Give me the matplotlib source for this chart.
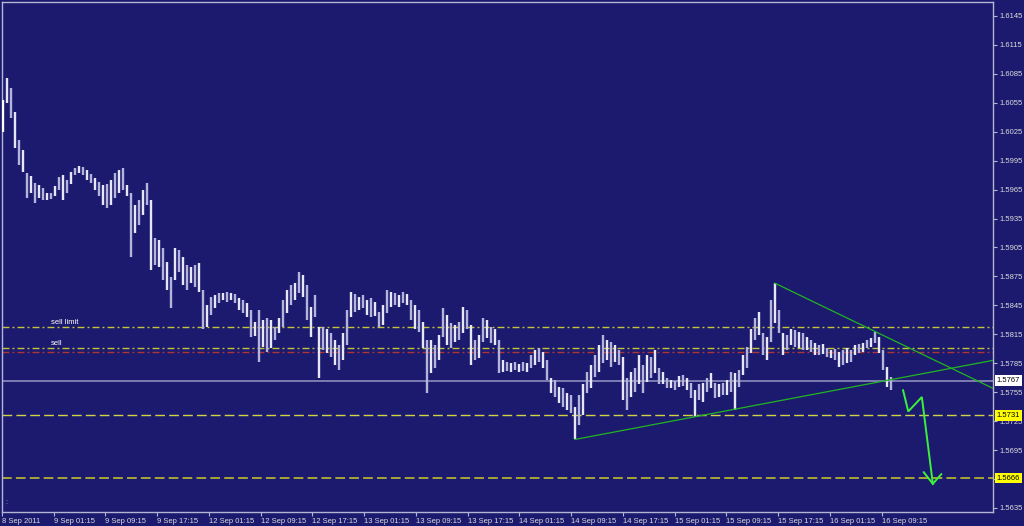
#!/usr/bin/env python3
"""
GBPUSD M15 bar chart, 8-16 Sep 2011, MetaTrader style,
with order levels, trend lines and a hand-drawn forecast arrow.
"""

import numpy as np
import matplotlib
matplotlib.use('Agg')
import matplotlib.pyplot as plt

plt.rcParams.update({
    'font.family': ['Liberation Sans', 'DejaVu Sans'],
    'font.size': 5.5,
    'lines.scale_dashes': False,
})

BG = '#1c1a6e'
FRAME = '#b4b4d4'
TEXT = '#dcdcdc'

# bar highs / lows (one bar about every 37 minutes)
highs = [
    1.6058, 1.6081, 1.6070, 1.6045, 1.6016, 1.6006, 1.5982, 1.5979, 1.5972, 1.5970,
    1.5967, 1.5961, 1.5962, 1.5969, 1.5978, 1.5980, 1.5975, 1.5983, 1.5987, 1.5989,
    1.5988, 1.5985, 1.5981, 1.5977, 1.5973, 1.5970, 1.5971, 1.5975, 1.5982, 1.5985,
    1.5987, 1.5970, 1.5961, 1.5949, 1.5954, 1.5965, 1.5972, 1.5954, 1.5915, 1.5913,
    1.5904, 1.5890, 1.5874, 1.5904, 1.5902, 1.5895, 1.5887, 1.5885, 1.5887, 1.5889,
    1.5861, 1.5845, 1.5854, 1.5856, 1.5858, 1.5858, 1.5859, 1.5858, 1.5857, 1.5853,
    1.5851, 1.5847, 1.5840, 1.5828, 1.5840, 1.5830, 1.5832, 1.5830, 1.5823, 1.5832,
    1.5851, 1.5861, 1.5866, 1.5868, 1.5880, 1.5877, 1.5866, 1.5843, 1.5856, 1.5823,
    1.5823, 1.5820, 1.5816, 1.5809, 1.5804, 1.5816, 1.5840, 1.5859, 1.5857, 1.5854,
    1.5856, 1.5851, 1.5853, 1.5848, 1.5838, 1.5845, 1.5861, 1.5859, 1.5858, 1.5856,
    1.5859, 1.5857, 1.5851, 1.5845, 1.5840, 1.5828, 1.5809, 1.5809, 1.5804, 1.5814,
    1.5842, 1.5835, 1.5827, 1.5825, 1.5828, 1.5843, 1.5840, 1.5825, 1.5809, 1.5814,
    1.5832, 1.5830, 1.5823, 1.5820, 1.5809, 1.5788, 1.5786, 1.5785, 1.5786, 1.5784,
    1.5786, 1.5785, 1.5794, 1.5799, 1.5801, 1.5797, 1.5788, 1.5770, 1.5768, 1.5760,
    1.5759, 1.5754, 1.5752, 1.5740, 1.5752, 1.5763, 1.5776, 1.5783, 1.5794, 1.5804,
    1.5814, 1.5809, 1.5807, 1.5804, 1.5799, 1.5791, 1.5770, 1.5776, 1.5780, 1.5794,
    1.5783, 1.5794, 1.5791, 1.5799, 1.5780, 1.5776, 1.5770, 1.5768, 1.5767, 1.5772,
    1.5773, 1.5770, 1.5765, 1.5757, 1.5763, 1.5765, 1.5770, 1.5775, 1.5765, 1.5763,
    1.5765, 1.5768, 1.5776, 1.5775, 1.5778, 1.5794, 1.5802, 1.5820, 1.5832, 1.5838,
    1.5816, 1.5812, 1.5851, 1.5868, 1.5840, 1.5816, 1.5814, 1.5820, 1.5819, 1.5817,
    1.5816, 1.5812, 1.5809, 1.5806, 1.5804, 1.5805, 1.5801, 1.5799, 1.5800, 1.5797,
    1.5799, 1.5801, 1.5799, 1.5804, 1.5805, 1.5806, 1.5809, 1.5811, 1.5817, 1.5812,
    1.5799, 1.5781, 1.5771,
]
lows = [
    1.6025, 1.6055, 1.6039, 1.6008, 1.5991, 1.5983, 1.5956, 1.5962, 1.5951, 1.5956,
    1.5954, 1.5954, 1.5955, 1.5958, 1.5965, 1.5954, 1.5962, 1.5971, 1.5980, 1.5982,
    1.5980, 1.5975, 1.5972, 1.5965, 1.5958, 1.5949, 1.5946, 1.5949, 1.5956, 1.5962,
    1.5965, 1.5958, 1.5895, 1.5920, 1.5928, 1.5939, 1.5949, 1.5882, 1.5887, 1.5885,
    1.5871, 1.5861, 1.5842, 1.5871, 1.5880, 1.5866, 1.5861, 1.5868, 1.5864, 1.5859,
    1.5820, 1.5823, 1.5835, 1.5842, 1.5847, 1.5851, 1.5848, 1.5851, 1.5847, 1.5840,
    1.5837, 1.5833, 1.5812, 1.5813, 1.5786, 1.5802, 1.5797, 1.5801, 1.5809, 1.5816,
    1.5823, 1.5837, 1.5845, 1.5851, 1.5858, 1.5854, 1.5830, 1.5812, 1.5833, 1.5770,
    1.5799, 1.5796, 1.5791, 1.5783, 1.5778, 1.5788, 1.5804, 1.5833, 1.5838, 1.5840,
    1.5842, 1.5835, 1.5833, 1.5834, 1.5823, 1.5825, 1.5837, 1.5843, 1.5845, 1.5843,
    1.5847, 1.5845, 1.5830, 1.5820, 1.5817, 1.5801, 1.5754, 1.5775, 1.5780, 1.5788,
    1.5812, 1.5804, 1.5801, 1.5807, 1.5809, 1.5816, 1.5820, 1.5783, 1.5788, 1.5790,
    1.5807, 1.5811, 1.5806, 1.5804, 1.5775, 1.5776, 1.5777, 1.5776, 1.5778, 1.5776,
    1.5777, 1.5776, 1.5780, 1.5783, 1.5786, 1.5780, 1.5768, 1.5754, 1.5750, 1.5744,
    1.5740, 1.5737, 1.5733, 1.5706, 1.5721, 1.5731, 1.5754, 1.5759, 1.5771, 1.5776,
    1.5785, 1.5788, 1.5781, 1.5786, 1.5783, 1.5747, 1.5737, 1.5750, 1.5755, 1.5763,
    1.5754, 1.5766, 1.5770, 1.5775, 1.5763, 1.5763, 1.5759, 1.5759, 1.5757, 1.5760,
    1.5761, 1.5757, 1.5749, 1.5729, 1.5747, 1.5745, 1.5755, 1.5759, 1.5749, 1.5750,
    1.5752, 1.5752, 1.5755, 1.5737, 1.5760, 1.5773, 1.5780, 1.5796, 1.5809, 1.5814,
    1.5794, 1.5788, 1.5807, 1.5827, 1.5816, 1.5794, 1.5799, 1.5804, 1.5802, 1.5801,
    1.5799, 1.5799, 1.5797, 1.5794, 1.5794, 1.5795, 1.5791, 1.5790, 1.5788, 1.5781,
    1.5783, 1.5785, 1.5786, 1.5794, 1.5796, 1.5797, 1.5801, 1.5802, 1.5806, 1.5796,
    1.5778, 1.5760, 1.5757,
]

x_labels = ['8 Sep 2011', '9 Sep 01:15', '9 Sep 09:15', '9 Sep 17:15',
            '12 Sep 01:15', '12 Sep 09:15', '12 Sep 17:15', '13 Sep 01:15',
            '13 Sep 09:15', '13 Sep 17:15', '14 Sep 01:15', '14 Sep 09:15',
            '14 Sep 17:15', '15 Sep 01:15', '15 Sep 09:15', '15 Sep 17:15',
            '16 Sep 01:15', '16 Sep 09:15']
y_ticks = [1.6145, 1.6115, 1.6085, 1.6055, 1.6025, 1.5995, 1.5965, 1.5935, 1.5905,
           1.5875, 1.5845, 1.5815, 1.5785, 1.5755, 1.5725, 1.5695, 1.5665, 1.5635]

# order / price levels
sell_limit = 1.5823
sell_open = 1.5801
stop_level = 1.5797
bid = 1.5767
target_1 = 1.5731
target_2 = 1.5666

# trend lines (start and right-edge prices)
support_prices = [1.5706, 1.5788]
resist_prices = [1.5868, 1.5759]

# forecast arrow (hours, price)
fc_hours = [139.3, 140.1, 142.2, 143.9]
fc_prices = [1.5757, 1.5735, 1.5750, 1.5660]
fc_head_hours = [142.5, 143.9, 145.2]
fc_head_prices = [1.5672, 1.5660, 1.5670]

HOURS_PER_BAR = 8 / 12.94          # chart time axis: hours since 8 Sep 17:15
FIRST_BAR = 0.155
X_MAX = 153.2

fig = plt.figure(figsize=(10.24, 5.26), dpi=100, facecolor=BG)
ax = fig.add_axes([2 / 1024, 14 / 526, 991 / 1024, 510 / 526])
ax.set_facecolor(BG)

t = FIRST_BAR + np.arange(len(highs)) * HOURS_PER_BAR
bar_cols = ['#e6e6f6' if i % 2 else '#b4b4dc' for i in range(len(highs))]
bar_cols[0] = '#ffffff'
ax.vlines(t, lows, highs, colors=bar_cols, linewidth=1.7, zorder=3)

# horizontal levels
dashdot = (0, (5, 2.2, 1.4, 2.2))
ax.axhline(sell_limit, color='#c4c43c', lw=1.0, ls=dashdot, zorder=2)
ax.axhline(sell_open, color='#c4c43c', lw=1.0, ls=dashdot, zorder=2)
ax.axhline(stop_level, color='#b03434', lw=1.0, ls=dashdot, zorder=2)
ax.axhline(bid, color='#8e8ebe', lw=1.2, zorder=2)
ax.axhline(target_1, color='#d2d248', lw=1.0, ls=(0, (7, 3)), zorder=2)
ax.axhline(target_2, color='#a6a636', lw=1.4, ls=(0, (7, 3)), zorder=2)

ax.text(7.5, sell_limit + 0.00006, 'sell limit', color='white', fontsize=5.5,
        va='bottom', ha='left')
ax.text(7.6, sell_open + 0.00008, 'sell', color='white', fontsize=5.5,
        va='bottom', ha='left')

# trend lines
ax.plot([t[143], X_MAX], support_prices, color='#22b422', lw=0.9, zorder=4)
ax.plot([t[193], X_MAX], resist_prices, color='#22b422', lw=0.9, zorder=4)

# forecast arrow
ax.plot(fc_hours, fc_prices, color='#3cf03c', lw=1.4, zorder=5,
        solid_joinstyle='miter')
ax.plot(fc_head_hours, fc_head_prices, color='#3cf03c', lw=1.4, zorder=5,
        solid_joinstyle='miter')

ax.set_xlim(0, X_MAX)
ax.set_ylim(1.56308, 1.61595)

ax.set_xticks(np.arange(len(x_labels)) * 8)
ax.set_xticklabels(x_labels)
for lab in ax.get_xticklabels():
    lab.set_ha('left')
ax.yaxis.tick_right()
ax.set_yticks(y_ticks)
# 1.5665 sits under the yellow 1.5666 box, so its label stays blank
ax.set_yticklabels(['' if v == 1.5665 else f'{v:.4f}' for v in y_ticks])
ax.tick_params(axis='both', colors=FRAME, labelcolor=TEXT, labelsize=5.5,
               length=3, width=0.8, pad=1.5, direction='out')

for side in ['left', 'right', 'top', 'bottom']:
    ax.spines[side].set_color(FRAME)
    ax.spines[side].set_linewidth(1.0)

# price boxes on the right scale
ytrans = ax.get_yaxis_transform()
for price, fc in [(bid, 'white'), (target_1, '#ffff00'), (target_2, '#ffff00')]:
    ax.text(1.0035, price, f'{price:.4f}', transform=ytrans, ha='left',
            va='center', fontsize=5.5, color='black', clip_on=False, zorder=10,
            bbox=dict(boxstyle='square,pad=0.25', fc=fc, ec='none'))

ax.text(0.003, 0.015, ':', transform=ax.transAxes, color=FRAME, fontsize=5)

fig.savefig('out.png', dpi=100, facecolor=BG)
